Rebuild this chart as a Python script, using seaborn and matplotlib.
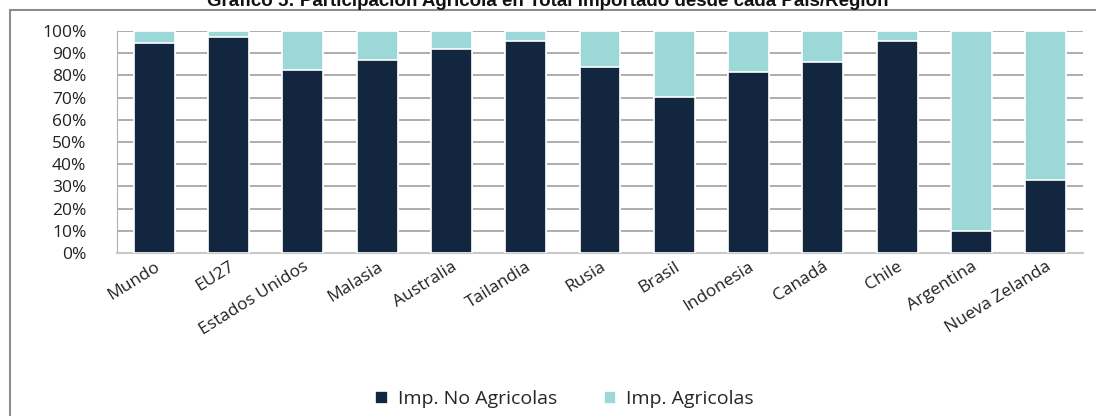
import matplotlib
matplotlib.use("Agg")
import matplotlib.pyplot as plt
import seaborn as sns
import pandas as pd
from matplotlib.patches import Rectangle
from matplotlib.ticker import FuncFormatter

categories = ["Mundo", "EU27", "Estados Unidos", "Malasia", "Australia", "Tailandia",
              "Rusia", "Brasil", "Indonesia", "Canadá", "Chile", "Argentina", "Nueva Zelanda"]
no_agricolas = [94.6, 97.1, 82.4, 86.9, 91.9, 95.6, 84.0, 70.3, 81.6, 85.9, 95.4, 9.9, 33.1]
agricolas = [5.4, 2.9, 17.6, 13.1, 8.1, 4.4, 16.0, 29.7, 18.4, 14.1, 4.6, 90.1, 66.9]
series_names = ["Imp. No Agricolas", "Imp. Agricolas"]
title = "Gráfico 5: Participación Agrícola en Total Importado desde cada País/Región"

dark = "#12263F"
teal = "#9DD8D8"

df = pd.DataFrame({"cat": categories, "no": no_agricolas, "agri": agricolas})
df["total"] = df["no"] + df["agri"]

sns.set_style("white")
plt.rcParams["font.family"] = ["Open Sans", "DejaVu Sans"]

fig = plt.figure(figsize=(10.96, 4.16), dpi=100)
ax = fig.add_axes([117/1096, (416-253)/416, (1083-117)/1096, (253-31)/416])

sns.barplot(data=df, x="cat", y="total", color=teal, width=0.55, edgecolor="white",
            linewidth=1.2, saturation=1, ax=ax, label=series_names[1], zorder=3)
sns.barplot(data=df, x="cat", y="no", color=dark, width=0.55, edgecolor="white",
            linewidth=1.2, saturation=1, ax=ax, label=series_names[0], zorder=4)

ax.set_ylim(0, 100)
ax.set_xlim(-0.5, len(categories) - 0.5)
ax.set_yticks(range(0, 101, 10))
ax.yaxis.set_major_formatter(FuncFormatter(lambda v, p: f"{int(v)}%"))
ax.grid(axis="y", color="#A0A0A0", linewidth=1.2, zorder=0)
ax.set_axisbelow(True)
ax.set_xlabel("")
ax.set_ylabel("")
for s in ["top", "right"]:
    ax.spines[s].set_visible(False)
ax.spines["left"].set_color("#B0B0B0")
ax.spines["bottom"].set_color("#C8C8C8")
ax.spines["bottom"].set_linewidth(1.5)
ax.tick_params(axis="y", labelsize=12.5, length=0, pad=22, colors="#222222")
ax.tick_params(axis="x", labelsize=12.5, length=0, pad=4, colors="#222222")
plt.setp(ax.get_xticklabels(), rotation=32, ha="right", rotation_mode="anchor")

handles, labels = ax.get_legend_handles_labels()
order = [labels.index(series_names[0]), labels.index(series_names[1])]
fig.legend([handles[i] for i in order], [labels[i] for i in order],
           loc="center", bbox_to_anchor=(0.515, 1 - 399/416), ncol=2, frameon=False,
           fontsize=14, handlelength=0.65, handleheight=0.65, columnspacing=2.4,
           handletextpad=0.5)
if ax.legend_:
    ax.legend_.remove()

fig.patches.append(Rectangle((10/1096, -0.1), 1.2, 1 - 10/416 + 0.1, transform=fig.transFigure,
                             fill=False, edgecolor="#8C8C8C", linewidth=1.5))

fig.text(0.5, 1 - 6/416, title, ha="center", va="baseline", fontsize=13.5,
         fontweight="bold", family=["Liberation Sans", "DejaVu Sans"], color="#111111")

fig.savefig("out.png", dpi=100)
